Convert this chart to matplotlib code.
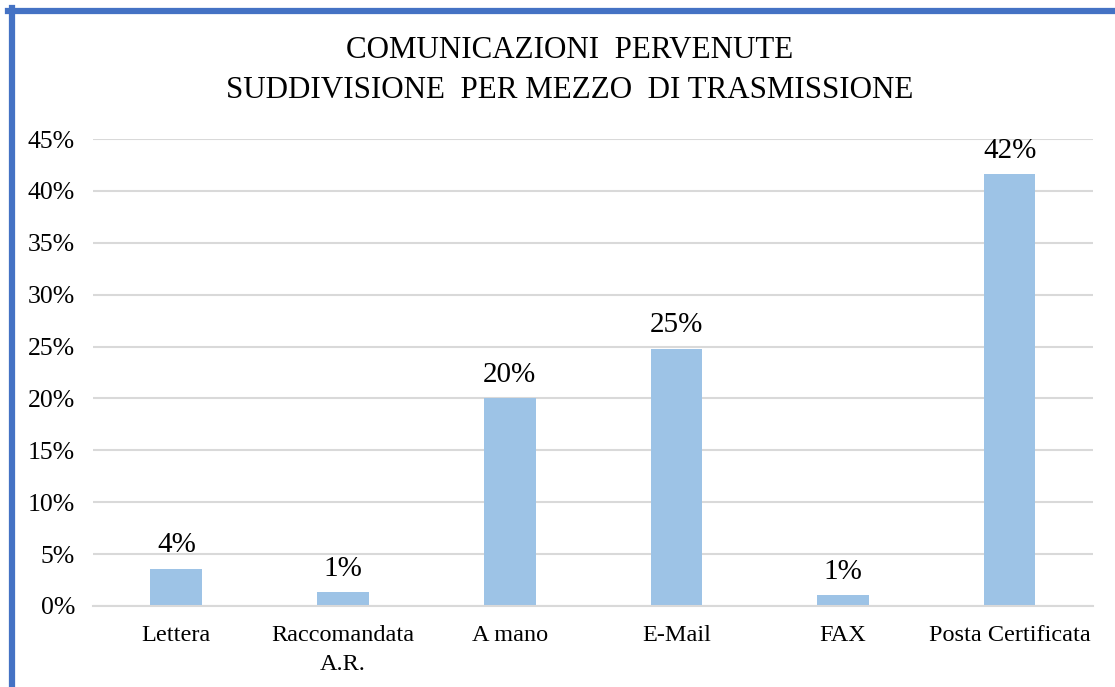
import matplotlib
matplotlib.use("Agg")
import matplotlib.pyplot as plt
from matplotlib.lines import Line2D

categories = ["Lettera", "Raccomandata\nA.R.", "A mano", "E-Mail", "FAX", "Posta Certificata"]
values = [3.6, 1.35, 20.0, 24.8, 1.05, 41.6]
labels = ["4%", "1%", "20%", "25%", "1%", "42%"]
yticks = [0, 5, 10, 15, 20, 25, 30, 35, 40, 45]

BAR = "#9DC3E6"
GRID = "#D9D9D9"
FRAME = "#4472C4"

plt.rcParams["font.family"] = ["Liberation Serif", "DejaVu Serif"]

W, H = 1115, 687
fig = plt.figure(figsize=(W / 100, H / 100), dpi=100)
ax = fig.add_axes([93 / W, 1 - 606 / H, 1000 / W, (606 - 139) / H])

x = range(len(categories))
ax.bar(x, values, width=0.31, color=BAR, zorder=2)
for i, (v, t) in enumerate(zip(values, labels)):
    ax.text(i, v + 1.0, t, ha="center", va="bottom", fontsize=21, color="#000000")

ax.set_xlim(-0.5, len(categories) - 0.5)
ax.set_ylim(0, 45)
ax.set_yticks(yticks)
ax.set_yticklabels([f"{t}%" for t in yticks], fontsize=18.5)
ax.set_xticks(list(x))
ax.set_xticklabels(categories, fontsize=17.5, linespacing=1.45)
ax.tick_params(axis="x", length=0, pad=14)
ax.tick_params(axis="y", length=0, pad=13)
ax.grid(axis="y", color=GRID, lw=1.5, zorder=0)
for s in ["top", "right", "left"]:
    ax.spines[s].set_visible(False)
ax.spines["bottom"].set_color(GRID)
ax.spines["bottom"].set_linewidth(1.5)

fig.text(570 / W, 1 - 50 / H, "COMUNICAZIONI  PERVENUTE", ha="center", va="center", fontsize=22.3)
fig.text(570 / W, 1 - 90 / H, "SUDDIVISIONE  PER MEZZO  DI TRASMISSIONE", ha="center", va="center", fontsize=22.3)

# blue frame on left and top
fig.add_artist(Line2D([11.5 / W, 11.5 / W], [0, 1 - 8 / H], color=FRAME, lw=4.5, transform=fig.transFigure))
fig.add_artist(Line2D([8 / W, 1], [1 - 11 / H, 1 - 11 / H], color=FRAME, lw=4.5, transform=fig.transFigure))

fig.savefig("out.png", dpi=100)
